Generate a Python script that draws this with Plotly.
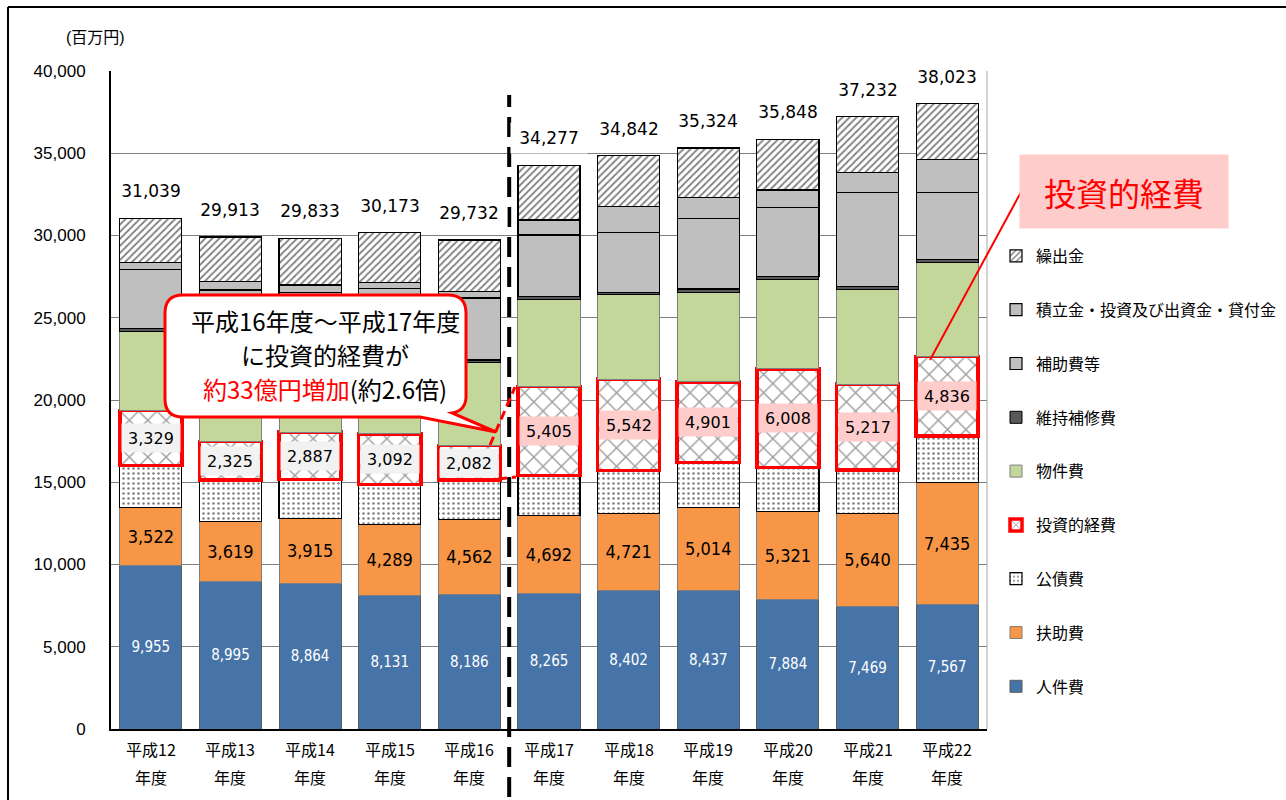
import plotly.graph_objects as go

# ---- data (百万円) ----
categories = ["平成12年度", "平成13年度", "平成14年度", "平成15年度", "平成16年度", "平成17年度",
              "平成18年度", "平成19年度", "平成20年度", "平成21年度", "平成22年度"]
year_labels = ["平成12", "平成13", "平成14", "平成15", "平成16", "平成17",
               "平成18", "平成19", "平成20", "平成21", "平成22"]

personnel = [9955, 8995, 8864, 8131, 8186, 8265, 8402, 8437, 7884, 7469, 7567]      # 人件費
assistance = [3522, 3619, 3915, 4289, 4562, 4692, 4721, 5014, 5321, 5640, 7435]     # 扶助費
debt = [2550, 2525, 2385, 2435, 2395, 2445, 2605, 2750, 2680, 2640, 2805]           # 公債費
investment = [3329, 2325, 2887, 3092, 2082, 5405, 5542, 4901, 6008, 5217, 4836]     # 投資的経費
goods = [4800, 4950, 4700, 4900, 5065, 5275, 5115, 5445, 5405, 5760, 5705]          # 物件費
maintenance = [180, 180, 180, 180, 140, 200, 140, 200, 200, 160, 205]               # 維持補修費
subsidy = [3615, 4095, 3590, 3765, 3770, 3750, 3670, 4275, 4195, 5715, 4050]        # 補助費等
reserve = [400, 505, 470, 360, 385, 910, 1555, 1300, 1075, 1215, 2030]              # 積立金・投資及び出資金・貸付金
transfers = [2688, 2719, 2842, 3021, 3147, 3335, 3092, 3002, 3080, 3416, 3390]      # 繰出金
totals = [31039, 29913, 29833, 30173, 29732, 34277, 34842, 35324, 35848, 37232, 38023]

CJK = "Noto Sans CJK JP, sans-serif"
NARROW = "Liberation Sans Narrow, DejaVu Sans Condensed, Arial Narrow, sans-serif"

# plot area in pixels (used for overlay drawings)
L, T, W, H = 111, 71, 876, 658


def px(x):
    return (x - L) / W


def py(y):
    return (T + H - y) / H


fig = go.Figure()

hatch_line = dict(color="black", width=1.2)
series = [
    dict(name="人件費", y=personnel, marker=dict(color="#4774a8", line=dict(color="#5a5a5a", width=1)),
         text=[f"{v:,}" for v in personnel], textfont=dict(color="white", size=15, family=NARROW)),
    dict(name="扶助費", y=assistance, marker=dict(color="#f79646", line=dict(color="#7f7f7f", width=1)),
         text=[f"{v:,}" for v in assistance], textfont=dict(color="black", size=18, family=NARROW)),
    dict(name="公債費", y=debt, marker=dict(color="white", line=hatch_line,
         pattern=dict(shape=".", fgcolor="black", bgcolor="white", size=5, solidity=0.2))),
    dict(name="投資的経費", y=investment, marker=dict(color="white", line=dict(color="#ff0000", width=3.5),
         pattern=dict(shape="x", fgcolor="#3a3a3a", bgcolor="white", size=13, solidity=0.2))),
    dict(name="物件費", y=goods, marker=dict(color="#c4d79b", line=dict(color="#7f7f7f", width=1))),
    dict(name="維持補修費", y=maintenance, marker=dict(color="#595959", line=dict(color="black", width=1))),
    dict(name="補助費等", y=subsidy, marker=dict(color="#bfbfbf", line=dict(color="black", width=1.2))),
    dict(name="積立金・投資及び出資金・貸付金", y=reserve,
         marker=dict(color="#bfbfbf", line=dict(color="black", width=1.2))),
    dict(name="繰出金", y=transfers, marker=dict(color="white", line=hatch_line,
         pattern=dict(shape="/", fgcolor="black", bgcolor="white", size=5, solidity=0.35))),
]

n_series = len(series)
for k, s in enumerate(series):
    fig.add_trace(go.Bar(
        x=categories, y=s["y"], name=s["name"], marker=s["marker"],
        text=s.get("text"), textposition="inside" if s.get("text") else "none",
        insidetextanchor="middle", textangle=0, textfont=s.get("textfont"),
        legendgroup=s["name"], legendrank=n_series - k, hoverinfo="name+y",
    ))

annotations = []

# totals above each bar
for c, t in zip(categories, totals):
    annotations.append(dict(x=c, y=t, xref="x", yref="y", text=f"{t:,}", showarrow=False,
                            yanchor="bottom", yshift=11, bgcolor="white", width=74, height=28,
                            font=dict(family="DejaVu Sans, sans-serif", size=17, color="black")))

# investment values with highlighted label boxes
for i, (c, v) in enumerate(zip(categories, investment)):
    base = personnel[i] + assistance[i] + debt[i]
    annotations.append(dict(x=c, y=base + v / 2, xref="x", yref="y", text=f"{v:,}", showarrow=False,
                            bgcolor="#f2f2f2" if i < 5 else "#ffcccc", width=56, height=26, borderpad=1,
                            font=dict(family="DejaVu Sans, sans-serif", size=16, color="black")))

# two-line category labels
for c, lab in zip(categories, year_labels):
    annotations.append(dict(x=c, y=0, xref="x", yref="paper", text=lab, showarrow=False,
                            yanchor="middle", yshift=-20, font=dict(family=CJK, size=16, color="black")))
    annotations.append(dict(x=c, y=0, xref="x", yref="paper", text="年度", showarrow=False,
                            yanchor="middle", yshift=-48, font=dict(family=CJK, size=16, color="black")))


def note(x, y, text, font, **kw):
    annotations.append(dict(x=px(x), y=py(y), xref="paper", yref="paper", text=text, showarrow=False,
                            xanchor="center", yanchor="middle", font=font, **kw))


# unit label
note(95, 38, "(百万円)", dict(family="Liberation Sans, " + CJK, size=16, color="black"))

# callout text
callout_font = dict(family=CJK, size=24, color="black")
note(325, 320, "平成16年度～平成17年度", callout_font)
note(325, 354, "に投資的経費が", callout_font)
note(325, 388, "<span style='color:#ff0000'>約33億円増加</span>(約2.6倍)", callout_font)

# highlighted caption at right
note(1124, 192, "投資的経費", dict(family=CJK, size=32, color="#ff0000"),
     bgcolor="#ffcccc", width=206, height=71)


def pth(points):
    """Build an SVG path in paper units from (command, x, y, ...) pixel tuples."""
    out = []
    for item in points:
        cmd, coords = item[0], item[1:]
        parts = []
        for k in range(0, len(coords), 2):
            parts.append(f"{px(coords[k]):.5f},{py(coords[k + 1]):.5f}")
        out.append(cmd + " ".join(parts))
    return " ".join(out) + " Z"


callout_path = pth([
    ("M", 183, 295), ("L", 448, 295), ("Q", 466, 295, 466, 313), ("L", 466, 398),
    ("Q", 465, 411, 452, 413), ("L", 496, 432), ("L", 420, 417), ("L", 183, 417),
    ("Q", 165, 417, 165, 399), ("L", 165, 313), ("Q", 165, 295, 183, 295),
])

shapes = [
    # outer frame (top and left)
    dict(type="line", xref="paper", yref="paper", x0=px(8), x1=px(1290), y0=py(7), y1=py(7),
         line=dict(color="black", width=2)),
    dict(type="line", xref="paper", yref="paper", x0=px(8), x1=px(8), y0=py(7), y1=py(805),
         line=dict(color="black", width=2)),
    # right edge of plot area
    dict(type="line", xref="paper", yref="paper", x0=1, x1=1, y0=0, y1=1,
         line=dict(color="#a6a6a6", width=1)),
    # divider between 平成16 and 平成17
    dict(type="line", xref="paper", yref="paper", x0=5 / 11, x1=5 / 11, y0=py(797), y1=py(95),
         line=dict(color="black", width=4, dash="20px,10px"), layer="above"),
    # growth guide lines
    dict(type="line", xref="paper", yref="paper", x0=px(490), y0=py(445), x1=px(515), y1=py(387),
         line=dict(color="#ff0000", width=3, dash="9px,5px"), layer="above"),
    dict(type="line", xref="paper", yref="paper", x0=px(498), y0=py(479), x1=px(516), y1=py(477),
         line=dict(color="#ff0000", width=3, dash="9px,5px"), layer="above"),
    # callout bubble
    dict(type="path", xref="paper", yref="paper", path=callout_path, fillcolor="white",
         line=dict(color="#ff0000", width=3), layer="above"),
    # pointer from caption to 平成22 investment
    dict(type="line", xref="paper", yref="paper", x0=px(1021), y0=py(192), x1=px(930), y1=py(360),
         line=dict(color="#ff0000", width=2), layer="above"),
]

fig.update_layout(
    barmode="stack",
    bargap=0.22,
    width=1286, height=800,
    margin=dict(l=L, r=1286 - L - W, t=T, b=800 - T - H, autoexpand=False),
    paper_bgcolor="white", plot_bgcolor="white",
    font=dict(family="Liberation Sans, " + CJK, color="black"),
    showlegend=True,
    legend=dict(x=px(996), y=py(239), xanchor="left", yanchor="top",
                traceorder="grouped", tracegroupgap=30,
                font=dict(family=CJK, size=16, color="black"), bgcolor="rgba(0,0,0,0)"),
    xaxis=dict(showticklabels=False, showline=True, linecolor="black", linewidth=2,
               ticks="", showgrid=False, fixedrange=True),
    yaxis=dict(range=[0, 40000], dtick=5000, tickformat=",", showline=True, linecolor="black",
               linewidth=2, showgrid=True, gridcolor="#7f7f7f", gridwidth=1, ticks="",
               ticklabelstandoff=20, tickfont=dict(size=17, family="Liberation Sans, Arial, sans-serif"),
               zeroline=False),
    annotations=annotations,
    shapes=shapes,
)

fig.write_html("out.html")
